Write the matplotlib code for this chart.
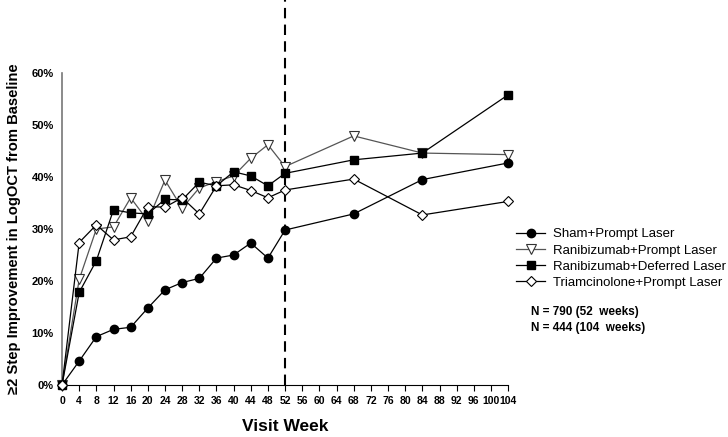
import numpy as np
import matplotlib
matplotlib.use("Agg")
import matplotlib.pyplot as plt

plt.rcParams['font.family'] = ['Liberation Sans', 'DejaVu Sans']

weeks = [0, 4, 8, 12, 16, 20, 24, 28, 32, 36, 40, 44, 48, 52, 68, 84, 104]

sham = [0, 4.6, 9.3, 10.7, 11.1, 14.8, 18.3, 19.7, 20.5, 24.4, 25.0, 27.3, 24.4, 29.8, 32.9, 39.5, 42.7]
rani_prompt = [0, 20.3, 30.0, 30.4, 36.0, 31.6, 39.4, 34.0, 37.9, 39.1, 40.2, 43.6, 46.2, 42.0, 47.9, 44.6, 44.3]
rani_deferred = [0, 17.8, 23.9, 33.7, 33.1, 32.9, 35.7, 35.6, 39.0, 38.3, 41.0, 40.2, 38.3, 40.7, 43.3, 44.6, 55.8]
triam = [0, 27.4, 30.8, 27.9, 28.5, 34.3, 34.2, 36.0, 32.9, 38.3, 38.5, 37.4, 36.0, 37.5, 39.6, 32.7, 35.3]

labels = ['Sham+Prompt Laser', 'Ranibizumab+Prompt Laser',
          'Ranibizumab+Deferred Laser', 'Triamcinolone+Prompt Laser']

fig = plt.figure(figsize=(7.28, 4.37), dpi=100)
ax = fig.add_axes([0.0852, 0.119, 0.6128, 0.714])

ms = 6
ax.plot(weeks, sham, color='black', lw=0.9, marker='o', ms=ms,
        mfc='black', mec='black', label=labels[0], clip_on=False, zorder=4)
ax.plot(weeks, rani_prompt, color='#555555', lw=0.9, marker='v', ms=ms + 1.5,
        mfc='white', mec='#333333', mew=0.8, label=labels[1], clip_on=False, zorder=3)
ax.plot(weeks, rani_deferred, color='black', lw=0.9, marker='s', ms=ms,
        mfc='black', mec='black', label=labels[2], clip_on=False, zorder=4)
ax.plot(weeks, triam, color='black', lw=0.9, marker='D', ms=ms - 0.5,
        mfc='white', mec='black', mew=0.8, label=labels[3], clip_on=False, zorder=5)

# dashed line at week 52 running up to the top of the figure
ax.plot([52, 52], [0, 74], color='black', lw=1.5, ls=(0, (5, 3)),
        clip_on=False, zorder=2)

ax.set_xlim(0, 104)
ax.set_ylim(0, 60)
ax.set_xticks(np.arange(0, 105, 4))
ax.set_xticklabels([str(v) for v in range(0, 105, 4)], fontsize=7.5, fontweight='bold')
ax.set_yticks(np.arange(0, 61, 10))
ax.set_yticklabels(['%d%%' % v for v in range(0, 61, 10)], fontsize=8, fontweight='bold')
ax.tick_params(axis='y', length=0, pad=6)
ax.tick_params(axis='x', length=4, width=0.8, direction='out', pad=4)

for s in ['top', 'right']:
    ax.spines[s].set_visible(False)
ax.spines['left'].set_color('#777777')
ax.spines['left'].set_linewidth(1.2)
ax.spines['bottom'].set_color('black')
ax.spines['bottom'].set_linewidth(0.8)

ax.set_xlabel('Visit Week', fontsize=12.5, fontweight='bold', labelpad=9)
fig.text(0.019, 0.476, '≥2 Step Improvement in LogOCT from Baseline', rotation=90,
         fontsize=10.6, fontweight='bold', ha='center', va='center')

leg = fig.legend(loc='upper left', bbox_to_anchor=(0.702, 0.49), frameon=False,
                 fontsize=9.5, handlelength=2.2, handletextpad=0.6, labelspacing=0.3,
                 borderaxespad=0)

fig.text(0.73, 0.286, 'N = 790 (52  weeks)', fontsize=8.5, fontweight='bold', va='center')
fig.text(0.73, 0.249, 'N = 444 (104  weeks)', fontsize=8.5, fontweight='bold', va='center')

fig.savefig('out.png', dpi=100)
